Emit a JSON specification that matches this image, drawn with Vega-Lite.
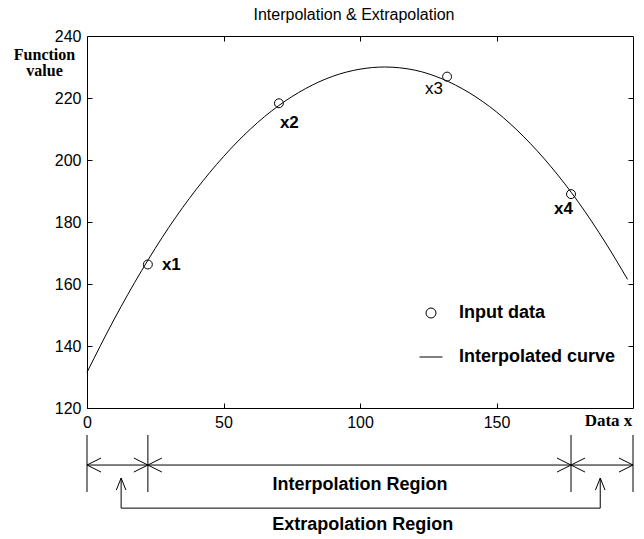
{
  "$schema": "https://vega.github.io/schema/vega-lite/v6.json",
  "width": 546,
  "height": 372,
  "autosize": {"type": "none"},
  "padding": {"left": 87, "top": 36, "right": 11, "bottom": 131},
  "background": "white",
  "config": {"view": {"stroke": null}, "font": "Liberation Sans"},
  "title": {"text": "Interpolation & Extrapolation", "fontSize": 16, "fontWeight": "normal", "font": "Liberation Sans", "color": "black", "offset": 5, "anchor": "middle", "dx": -6},
  "datasets": {
    "curve": [
      {"x": 0, "y": 131.5}, {"x": 10, "y": 148.7}, {"x": 20, "y": 164.3}, {"x": 30, "y": 178.3},
      {"x": 40, "y": 190.5}, {"x": 50, "y": 201.1}, {"x": 60, "y": 210.1}, {"x": 70, "y": 217.4},
      {"x": 80, "y": 223.0}, {"x": 90, "y": 227.0}, {"x": 100, "y": 229.3}, {"x": 109, "y": 230.0},
      {"x": 120, "y": 229.0}, {"x": 130, "y": 226.2}, {"x": 140, "y": 221.7}, {"x": 150, "y": 215.5},
      {"x": 160, "y": 207.5}, {"x": 170, "y": 197.8}, {"x": 180, "y": 186.4}, {"x": 190, "y": 173.2},
      {"x": 198, "y": 161.5}
    ],
    "points": [
      {"x": 22.3, "y": 166.3, "label": "x1", "series": "Input data"},
      {"x": 70.3, "y": 218.3, "label": "x2", "series": "Input data"},
      {"x": 131.9, "y": 226.9, "label": "x3", "series": "Input data"},
      {"x": 177.3, "y": 189.0, "label": "x4", "series": "Input data"}
    ],
    "bounds": [{"x": 0}, {"x": 22.3}, {"x": 177.3}, {"x": 200}],
    "regions": [
      {"name": "Extrapolation", "from": 0, "to": 22.3},
      {"name": "Interpolation", "from": 22.3, "to": 177.3},
      {"name": "Extrapolation", "from": 177.3, "to": 200}
    ],
    "callouts": [{"x": 12.5}, {"x": 188}],
    "regionLabels": [
      {"label": "Interpolation Region", "x": 100},
      {"label": "Extrapolation Region", "x": 101}
    ]
  },
  "layer": [
    {
      "data": {"name": "curve"},
      "mark": {"type": "point", "opacity": 0},
      "encoding": {
        "x": {"field": "x", "type": "quantitative", "scale": {"domain": [0, 200], "nice": false, "zero": false},
              "axis": {"orient": "top", "values": [50, 100, 150], "tickSize": -5, "labels": false, "title": null, "grid": false, "domainColor": "black", "tickColor": "black"}},
        "y": {"field": "y", "type": "quantitative", "scale": {"domain": [120, 240], "nice": false, "zero": false},
              "axis": {"orient": "right", "values": [140, 160, 180, 200, 220], "tickSize": -5, "labels": false, "title": null, "grid": false, "domainColor": "black", "tickColor": "black"}}
      }
    },
    {
      "layer": [
        {
          "data": {"name": "curve"},
          "mark": {"type": "line", "interpolate": "monotone", "color": "black", "strokeWidth": 1},
          "encoding": {
            "x": {"field": "x", "type": "quantitative", "scale": {"domain": [0, 200], "nice": false, "zero": false},
                  "axis": {"orient": "bottom", "values": [0, 50, 100, 150], "tickSize": -5, "labelPadding": 11, "labelFlush": false, "labelOverlap": false,
                           "labelFont": "Liberation Sans", "labelFontSize": 16, "labelColor": "black", "grid": false, "domainColor": "black", "tickColor": "black",
                           "title": "Data x", "titleFont": "Liberation Serif", "titleFontWeight": "bold", "titleFontSize": 17, "titleColor": "black",
                           "titleX": 521, "titleY": 12, "titleAlign": "center", "titleBaseline": "middle", "titleAnchor": null}},
            "y": {"field": "y", "type": "quantitative", "scale": {"domain": [120, 240], "nice": false, "zero": false},
                  "axis": {"orient": "left", "values": [120, 140, 160, 180, 200, 220, 240], "tickSize": -5, "labelPadding": 11, "labelFlush": false, "labelOverlap": false,
                           "labelFont": "Liberation Sans", "labelFontSize": 16, "labelColor": "black", "grid": false, "domainColor": "black", "tickColor": "black",
                           "title": ["Function", "value"], "titleFont": "Liberation Serif", "titleFontWeight": "bold", "titleFontSize": 16, "titleColor": "black",
                           "titleAngle": 0, "titleX": -43, "titleY": 18, "titleAlign": "center", "titleBaseline": "middle", "titleLineHeight": 16, "titleAnchor": null}}
          }
        },
        {
          "data": {"name": "points"},
          "mark": {"type": "point", "filled": false, "color": "black", "strokeWidth": 1, "size": 80, "opacity": 1},
          "encoding": {
            "x": {"field": "x", "type": "quantitative"},
            "y": {"field": "y", "type": "quantitative"},
            "shape": {"field": "series", "type": "nominal",
                      "scale": {"domain": ["Input data", "Interpolated curve"], "range": ["circle", "M-2.3,0L2.3,0"]},
                      "legend": {"title": null, "orient": "none", "legendX": 335, "legendY": 268, "padding": 0,
                                 "labelFont": "Liberation Sans", "labelFontSize": 18, "labelFontWeight": "bold", "labelColor": "black",
                                 "labelOffset": 19, "rowPadding": 26, "symbolSize": 100, "symbolStrokeWidth": 1, "symbolStrokeColor": "black", "symbolFillColor": "transparent"}}
          }
        },
        {
          "data": {"name": "points"},
          "transform": [{"filter": "datum.label === 'x1'"}],
          "mark": {"type": "text", "align": "left", "baseline": "middle", "dx": 14, "dy": 1, "fontSize": 17, "fontWeight": "bold", "font": "Liberation Sans", "color": "black"},
          "encoding": {"x": {"field": "x", "type": "quantitative"}, "y": {"field": "y", "type": "quantitative"}, "text": {"field": "label"}}
        },
        {
          "data": {"name": "points"},
          "transform": [{"filter": "datum.label === 'x2'"}],
          "mark": {"type": "text", "align": "left", "baseline": "middle", "dx": 1, "dy": 20, "fontSize": 17, "fontWeight": "bold", "font": "Liberation Sans", "color": "black"},
          "encoding": {"x": {"field": "x", "type": "quantitative"}, "y": {"field": "y", "type": "quantitative"}, "text": {"field": "label"}}
        },
        {
          "data": {"name": "points"},
          "transform": [{"filter": "datum.label === 'x3'"}],
          "mark": {"type": "text", "align": "right", "baseline": "middle", "dx": -4, "dy": 12, "fontSize": 17, "fontWeight": "normal", "font": "Liberation Sans", "color": "black"},
          "encoding": {"x": {"field": "x", "type": "quantitative"}, "y": {"field": "y", "type": "quantitative"}, "text": {"field": "label"}}
        },
        {
          "data": {"name": "points"},
          "transform": [{"filter": "datum.label === 'x4'"}],
          "mark": {"type": "text", "align": "right", "baseline": "middle", "dx": 2, "dy": 15, "fontSize": 17, "fontWeight": "bold", "font": "Liberation Sans", "color": "black"},
          "encoding": {"x": {"field": "x", "type": "quantitative"}, "y": {"field": "y", "type": "quantitative"}, "text": {"field": "label"}}
        },
        {
          "data": {"name": "bounds"},
          "mark": {"type": "rule", "color": "black", "strokeWidth": 1},
          "encoding": {"x": {"field": "x", "type": "quantitative"}, "y": {"datum": 111.3}, "y2": {"datum": 92.9}}
        },
        {
          "data": {"name": "regions"},
          "mark": {"type": "rule", "color": "black", "strokeWidth": 1},
          "encoding": {"x": {"field": "from", "type": "quantitative"}, "x2": {"field": "to"}, "y": {"datum": 101.6}}
        },
        {
          "data": {"name": "regions"},
          "mark": {"type": "point", "shape": "M2,-1L0,0L2,1", "size": 196, "filled": false, "color": "black", "strokeWidth": 1, "opacity": 1},
          "encoding": {"x": {"field": "from", "type": "quantitative"}, "y": {"datum": 101.6}}
        },
        {
          "data": {"name": "regions"},
          "mark": {"type": "point", "shape": "M-2,-1L0,0L-2,1", "size": 196, "filled": false, "color": "black", "strokeWidth": 1, "opacity": 1},
          "encoding": {"x": {"field": "to", "type": "quantitative"}, "y": {"datum": 101.6}}
        },
        {
          "data": {"name": "callouts"},
          "mark": {"type": "rule", "color": "black", "strokeWidth": 1},
          "encoding": {"x": {"field": "x", "type": "quantitative"}, "y": {"datum": 97.4}, "y2": {"datum": 87.7}}
        },
        {
          "data": {"name": "callouts"},
          "mark": {"type": "rule", "color": "black", "strokeWidth": 1},
          "encoding": {"x": {"aggregate": "min", "field": "x", "type": "quantitative"}, "x2": {"aggregate": "max", "field": "x"}, "y": {"datum": 87.7}}
        },
        {
          "data": {"name": "callouts"},
          "mark": {"type": "point", "shape": "M-0.8,2L0,0L0.8,2", "size": 144, "filled": false, "color": "black", "strokeWidth": 1, "opacity": 1},
          "encoding": {"x": {"field": "x", "type": "quantitative"}, "y": {"datum": 97.4}}
        },
        {
          "data": {"name": "regionLabels"},
          "transform": [{"filter": "datum.label === 'Interpolation Region'"}],
          "mark": {"type": "text", "align": "center", "baseline": "middle", "fontSize": 18, "fontWeight": "bold", "font": "Liberation Sans", "color": "black"},
          "encoding": {"x": {"field": "x", "type": "quantitative"}, "y": {"datum": 95.2}, "text": {"field": "label"}}
        },
        {
          "data": {"name": "regionLabels"},
          "transform": [{"filter": "datum.label === 'Extrapolation Region'"}],
          "mark": {"type": "text", "align": "center", "baseline": "middle", "fontSize": 18, "fontWeight": "bold", "font": "Liberation Sans", "color": "black"},
          "encoding": {"x": {"field": "x", "type": "quantitative"}, "y": {"datum": 82.3}, "text": {"field": "label"}}
        }
      ]
    }
  ],
  "resolve": {"axis": {"x": "independent", "y": "independent"}}
}
